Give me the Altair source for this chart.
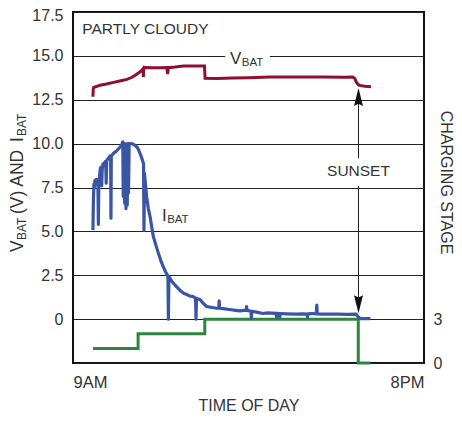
import altair as alt
import pandas as pd

FONT = "Liberation Sans"
TXT = "#333333"

# ---- data (hours of day, values) ----
vbat_h = [9.625, 9.635, 9.65, 9.85, 10.05, 10.27, 10.5, 10.69, 10.85, 10.95, 11.05, 11.16, 11.19, 11.205,
          11.215, 11.26, 11.5, 11.7, 11.94, 11.965, 11.99, 12.2, 12.46, 12.8, 13.12, 13.14, 13.5, 14.0,
          14.5, 15.17, 16.0, 16.8, 17.5, 17.77, 17.83, 17.875, 17.93, 17.98, 18.15, 18.34]
vbat_v = [12.67, 13.1, 13.2, 13.33, 13.4, 13.49, 13.58, 13.66, 13.78, 13.9, 14.02, 14.19, 14.26, 13.8,
          14.3, 14.34, 14.33, 14.33, 14.34, 13.96, 14.33, 14.36, 14.42, 14.42, 14.42, 13.72, 13.71, 13.74,
          13.76, 13.8, 13.79, 13.79, 13.78, 13.8, 13.72, 13.52, 13.38, 13.32, 13.27, 13.24]

ibat_h = [9.625, 9.64, 9.655, 9.67, 9.685, 9.70, 9.72, 9.74, 9.76, 9.78, 9.795, 9.81, 9.83, 9.85, 9.87,
          9.885, 9.90, 9.915, 9.94, 9.97, 10.0, 10.025, 10.04, 10.055, 10.08, 10.12, 10.16, 10.18, 10.19,
          10.20, 10.25, 10.30, 10.35, 10.40, 10.45, 10.50, 10.53, 10.56, 10.575, 10.59, 10.62, 10.64,
          10.66, 10.68, 10.70, 10.72, 10.74, 10.76, 10.85, 10.95, 11.03, 11.10, 11.16, 11.21, 11.225,
          11.24, 11.27, 11.31, 11.36, 11.42, 11.47, 11.52, 11.60, 11.675, 11.75, 11.83, 11.90, 11.975,
          11.99, 12.005, 12.04, 12.12, 12.25, 12.35, 12.46, 12.55, 12.67, 12.75, 12.84, 12.855, 12.87,
          12.98, 13.08, 13.19, 13.30, 13.40, 13.50, 13.57, 13.58, 13.595, 13.7, 13.9, 14.1, 14.23, 14.35,
          14.43, 14.44, 14.455, 14.575, 14.59, 14.605, 14.75, 14.95, 15.1, 15.365, 15.38, 15.395, 15.465,
          15.48, 15.495, 15.7, 16.0, 16.2, 16.335, 16.35, 16.365, 16.5, 16.625, 16.64, 16.655, 16.8,
          17.04, 17.3, 17.6, 17.875, 17.95, 18.0, 18.32]
ibat_v = [5.07, 6.8, 7.7, 7.5, 7.9, 7.7, 7.95, 7.8, 7.95, 7.85, 5.4, 7.9, 8.1, 8.5, 8.65,
          8.4, 7.6, 8.5, 8.85, 8.75, 8.95, 9.0, 7.75, 9.0, 9.1, 9.2, 9.3, 9.25, 5.75,
          9.3, 9.4, 9.5, 9.55, 9.65, 9.75, 9.85, 9.95, 10.1, 7.0, 9.95, 6.6, 10.0,
          6.3, 9.9, 6.5, 10.0, 7.2, 10.0, 10.0, 9.9, 9.75, 9.45, 9.15, 8.85, 5.07,
          8.3, 7.7, 6.95, 6.3, 5.8, 5.2, 4.69, 4.2, 3.76, 3.35, 2.98, 2.7, 2.45,
          0.0, 2.42, 2.33, 2.1, 1.84, 1.65, 1.48, 1.42, 1.31, 1.3, 1.2, 0.0, 1.18,
          1.12, 0.9, 0.72, 0.68, 0.65, 0.62, 0.62, 1.04, 0.62, 0.6, 0.55, 0.5, 0.47, 0.5,
          0.5, 0.72, 0.5, 0.45, 0.05, 0.45, 0.4, 0.32, 0.36, 0.33, 0.12, 0.33, 0.32,
          0.12, 0.32, 0.3, 0.28, 0.3, 0.28, 0.12, 0.3, 0.32, 0.3, 0.8, 0.3, 0.28,
          0.28, 0.28, 0.27, 0.28, 0.1, 0.03, 0.03]

stage_h = [9.625, 11.04, 13.13, 17.94, 18.32]
stage_v = [1, 2, 3, 0, 0]

y_ticks = [-2.5, 0, 2.5, 5.0, 7.5, 10.0, 12.5, 15.0, 17.5]
x_ticks = [9, 20]
x_tick_labels = ["9AM", "8PM"]
stage_ticks = [0, 3]

sunset_h = 17.947

vbat = pd.DataFrame({"h": vbat_h, "v": vbat_v})
ibat = pd.DataFrame({"h": ibat_h, "v": ibat_v})
stage = pd.DataFrame({"h": stage_h, "stage": stage_v})

W, H = 351, 351

xscale = alt.Scale(domain=[9, 20], nice=False, zero=False)
yscale = alt.Scale(domain=[-2.5, 17.5], nice=False, zero=False)

xaxis = alt.Axis(values=x_ticks,
                 labelExpr="datum.value == 9 ? '%s' : '%s'" % tuple(x_tick_labels),
                 grid=False, ticks=False, domain=False, labelPadding=11,
                 labelFont=FONT, labelFontSize=16.5, labelColor=TXT,
                 title="TIME OF DAY", titleFont=FONT, titleFontSize=16, titleFontWeight="normal",
                 titleColor=TXT, titleY=42, titleBaseline="middle")
yaxis = alt.Axis(values=y_ticks,
                 labelExpr="datum.value == 0 ? '0' : (datum.value < 0 ? '' : format(datum.value, '.1f'))",
                 grid=True, gridColor="#222222", gridWidth=1, gridOpacity=1,
                 ticks=False, domain=False, labelPadding=10,
                 labelOffset={"condition": {"test": "datum.value == 17.5", "value": 3}, "value": 0},
                 labelFont=FONT, labelFontSize=16, labelColor=TXT, title=None)

X = alt.X("h:Q", scale=xscale, axis=xaxis)
Y = alt.Y("v:Q", scale=yscale, axis=yaxis)

# white gap behind VBAT label on the 15.0 gridline
gap = alt.Chart(pd.DataFrame({"h": [13.77], "h2": [15.17], "v": [14.7], "v2": [15.3]})).mark_rect(
    color="white").encode(x=X, x2="h2", y=Y, y2="v2")

vline = alt.Chart(vbat).mark_line(color="#8c1030", strokeWidth=3).encode(x=X, y=Y)
iline = alt.Chart(ibat).mark_line(color="#3a55a6", strokeWidth=3.2, strokeJoin="round").encode(x=X, y=Y)

# sunset arrow
arrow_seg = pd.DataFrame({"h": [sunset_h, sunset_h], "v": [12.65, 7.58], "v2": [9.17, 0.85]})
arrow = alt.Chart(arrow_seg).mark_rule(color="#222222", strokeWidth=1).encode(x=X, y=Y, y2="v2")
heads = pd.DataFrame({"h": [sunset_h], "v": [12.65]})
head_up = alt.Chart(heads).mark_point(
    shape="M0,-1L-0.5,1L0,0.75L0.5,1Z", filled=True, color="#111111", size=324, opacity=1,
    strokeWidth=0).encode(x=X, y=Y)
heads2 = pd.DataFrame({"h": [sunset_h], "v": [0.85]})
head_dn = alt.Chart(heads2).mark_point(
    shape="M0,1L-0.5,-1L0,-0.75L0.5,-1Z", filled=True, color="#111111", size=324, opacity=1,
    strokeWidth=0).encode(x=X, y=Y)

def label(txt, h, v, size=16, align="left"):
    return alt.Chart(pd.DataFrame({"h": [h], "v": [v]})).mark_text(
        text=txt, font=FONT, fontSize=size, color=TXT, align=align, baseline="middle").encode(x=X, y=Y)

labels = [
    label("PARTLY CLOUDY", 9.29, 16.55, 15.5),
    label("V", 13.92, 14.84, 17),
    label("BAT", 14.29, 14.62, 11.5),
    label("I", 11.79, 5.9, 17),
    label("BAT", 11.95, 5.67, 11.5),
    label("SUNSET", sunset_h, 8.43, 15.5, "center"),
]

# left axis title with subscripts (rotated)
def ttl(txt, px, py, size):
    return alt.Chart(pd.DataFrame({"a": [0]})).mark_text(
        text=txt, font=FONT, fontSize=size, color=TXT, angle=270, align="left",
        baseline="middle").encode(x=alt.value(px), y=alt.value(py))

titles = [
    ttl("V", -55, 240, 17.5),
    ttl("BAT", -51, 228, 12),
    ttl("(V) AND", -55, 202, 17.5),
    ttl("I", -55, 130, 17.5),
    ttl("BAT", -51, 124, 12),
]

main = alt.layer(gap, vline, iline, arrow, head_up, head_dn, *labels, *titles)

stage_axis = alt.Axis(orient="right", values=stage_ticks, grid=False, ticks=False, domain=False,
                      labelPadding=9, labelFont=FONT, labelFontSize=16, labelColor=TXT,
                      title="CHARGING STAGE", titleFont=FONT, titleFontSize=16,
                      titleFontWeight="normal", titleColor=TXT, titleAngle=90,
                      titleX=21, titleY=170, titleAlign="center", titleBaseline="middle")
sline = alt.Chart(stage).mark_line(color="#2e8540", strokeWidth=3, interpolate="step-after").encode(
    x=X, y=alt.Y("stage:Q", scale=alt.Scale(domain=[0, 24], nice=False, zero=False), axis=stage_axis))

chart = alt.layer(sline, main).resolve_scale(y="independent").properties(
    width=W, height=H, autosize=alt.AutoSizeParams(type="none"),
    padding={"left": 65, "top": 4, "right": 30, "bottom": 50},
    background="white"
).configure_view(stroke="#111111", strokeWidth=2)

chart.save("out.html", embed_options={"renderer": "svg", "actions": False})
